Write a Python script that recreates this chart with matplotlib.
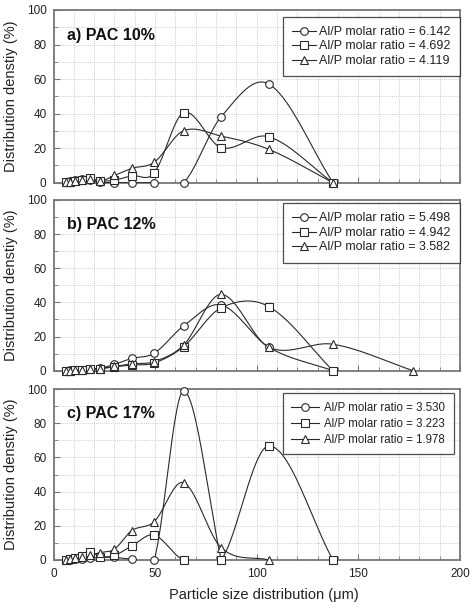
import numpy as np
import matplotlib
matplotlib.use("Agg")
import matplotlib.pyplot as plt
from matplotlib.ticker import MultipleLocator

plt.rcParams['font.family'] = ['Liberation Sans', 'DejaVu Sans']

# ---- data ----
x_bins = [6, 8, 10.5, 14, 18, 23, 30, 38.5, 49.5, 64, 82.5, 106, 137.5, 177]

panel_titles = ["a) PAC 10%", "b) PAC 12%", "c) PAC 17%"]

a_labels = ["Al/P molar ratio = 6.142", "Al/P molar ratio = 4.692", "Al/P molar ratio = 4.119"]
a_circle = [0.5, 0.8, 1.5, 2.0, 1.5, 0.3, 0.0, 0.0, 0.0, 0.0, 38.2, 57.1, 0.0]
a_square = [0.3, 0.5, 1.0, 1.5, 2.5, 1.0, 1.5, 4.0, 5.6, 40.5, 20.3, 26.6, 0.0]
a_triangle = [0.2, 0.3, 0.8, 1.5, 2.0, 0.8, 4.2, 8.3, 11.8, 30.1, 27.0, 19.3, 0.0]

b_labels = ["Al/P molar ratio = 5.498", "Al/P molar ratio = 4.942", "Al/P molar ratio = 3.582"]
b_circle = [0.0, 0.2, 0.3, 0.5, 0.8, 1.5, 3.7, 7.2, 10.2, 26.2, 38.5, 13.7, 0.0]
b_square = [0.0, 0.1, 0.2, 0.4, 0.8, 1.2, 2.3, 3.3, 4.5, 14.1, 36.9, 37.5, 0.0]
b_triangle = [0.0, 0.1, 0.2, 0.4, 0.8, 1.2, 2.5, 4.0, 5.3, 15.0, 44.7, 13.7, 15.5, 0.0]

c_labels = ["Al/P molar ratio = 3.530", "Al/P molar ratio = 3.223", "Al/P molar ratio = 1.978"]
c_circle = [0.0, 0.2, 0.3, 0.5, 1.0, 1.5, 1.5, 0.5, 0.0, 98.8, 0.0]
c_square = [0.2, 0.5, 1.0, 2.3, 4.9, 2.0, 2.7, 8.2, 14.6, 0.0, 0.0, 66.7, 0.0]
c_triangle = [0.2, 0.5, 1.0, 2.0, 3.0, 4.3, 6.4, 17.2, 22.4, 45.2, 7.2, 0.0]

x_ticks = [0, 50, 100, 150, 200]
y_ticks = [0, 20, 40, 60, 80, 100]

panels = [
    (a_labels, [a_circle, a_square, a_triangle]),
    (b_labels, [b_circle, b_square, b_triangle]),
    (c_labels, [c_circle, c_square, c_triangle]),
]


def hermite_spline(x, y, per_seg=60):
    """Piecewise cubic Hermite curve with finite-difference (Catmull-Rom) tangents."""
    x = np.asarray(x, float)
    y = np.asarray(y, float)
    n = len(x)
    m = np.empty(n)
    m[0] = (y[1] - y[0]) / (x[1] - x[0])
    m[-1] = (y[-1] - y[-2]) / (x[-1] - x[-2])
    m[1:-1] = (y[2:] - y[:-2]) / (x[2:] - x[:-2])
    xs_all, ys_all = [], []
    for i in range(n - 1):
        h = x[i + 1] - x[i]
        t = np.linspace(0, 1, per_seg)
        h00 = 2 * t ** 3 - 3 * t ** 2 + 1
        h10 = t ** 3 - 2 * t ** 2 + t
        h01 = -2 * t ** 3 + 3 * t ** 2
        h11 = t ** 3 - t ** 2
        xs_all.append(x[i] + t * h)
        ys_all.append(h00 * y[i] + h10 * h * m[i] + h01 * y[i + 1] + h11 * h * m[i + 1])
    return np.concatenate(xs_all), np.concatenate(ys_all)


fig = plt.figure(figsize=(4.72, 6.15), dpi=100)
W, H = 472.0, 615.0
left_px, right_px = 53.5, 460.0
rows = [(10, 182.7), (200, 370.7), (389, 560)]
legend_anchor = [(1.0, 0.962), (1.0, 0.982), (0.985, 0.976)]
legend_style = [
    dict(fontsize=9, handlelength=1.9, handletextpad=0.25, labelspacing=0.2),
    dict(fontsize=9, handlelength=1.9, handletextpad=0.25, labelspacing=0.2),
    dict(fontsize=8.3, handlelength=2.4, handletextpad=0.45, labelspacing=0.35),
]

markers = ['o', 's', '^']
line_col = '#2a2a2a'
frame_col = '#777777'

for k, ((top, bot), (labels, series)) in enumerate(zip(rows, panels)):
    ax = fig.add_axes([left_px / W, 1 - bot / H, (right_px - left_px) / W, (bot - top) / H])
    ax.set_xlim(0, 200)
    ax.set_ylim(0, 100)
    handles = []
    for s, (vals, mk) in enumerate(zip(series, markers)):
        xv = x_bins[:len(vals)]
        xs, ys = hermite_spline(xv, vals)
        ax.plot(xs, ys, color=line_col, lw=0.8, zorder=3)
        ax.plot(xv, vals, linestyle='none', marker=mk, ms=5.5, mfc='white',
                mec=line_col, mew=0.8, zorder=4, clip_on=False)
        h, = ax.plot([], [], color=line_col, lw=0.8, marker=mk, ms=5.5,
                     mfc='white', mec=line_col, mew=0.8)
        handles.append(h)
    ax.xaxis.set_major_locator(MultipleLocator(50))
    ax.xaxis.set_minor_locator(MultipleLocator(10))
    ax.yaxis.set_major_locator(MultipleLocator(20))
    ax.yaxis.set_minor_locator(MultipleLocator(10))
    ax.set_yticks(y_ticks)
    ax.grid(True, which='both', linestyle=(0, (1, 1.5)), color='#bdbdbd', lw=0.6, zorder=0)
    ax.set_axisbelow(True)
    ax.tick_params(which='both', direction='in', color=frame_col, top=False, right=False,
                   labelsize=8.5, labelcolor='#222222')
    ax.tick_params(which='major', length=4, width=0.8)
    ax.tick_params(which='minor', length=3, width=0.6)
    ax.tick_params(axis='y', pad=5)
    ax.tick_params(axis='x', pad=6)
    for sp in ax.spines.values():
        sp.set_color(frame_col)
        sp.set_linewidth(1.3)
    if k < 2:
        ax.set_xticklabels([])
    else:
        ax.set_xticks(x_ticks)
        ax.set_xlabel("Particle size distribution (\u03bcm)", fontsize=10.5, color='#222222')
        ax.xaxis.set_label_coords(0.518, -0.165)
    ax.set_ylabel("Distribution denstiy (%)", fontsize=10.5, labelpad=6, color='#222222')
    ax.text(0.032, 0.855, panel_titles[k], transform=ax.transAxes, fontsize=11.5,
            fontweight='bold', va='center', ha='left', color='#111111', zorder=5)
    leg = ax.legend(handles, labels, loc='upper right', bbox_to_anchor=legend_anchor[k],
                    borderaxespad=0, frameon=True, fancybox=False,
                    borderpad=0.75, **legend_style[k])
    leg.get_frame().set_edgecolor('#222222')
    leg.get_frame().set_linewidth(0.9)
    for t in leg.get_texts():
        t.set_color('#222222')
    leg.set_zorder(6)

fig.savefig("out.png", dpi=100)
